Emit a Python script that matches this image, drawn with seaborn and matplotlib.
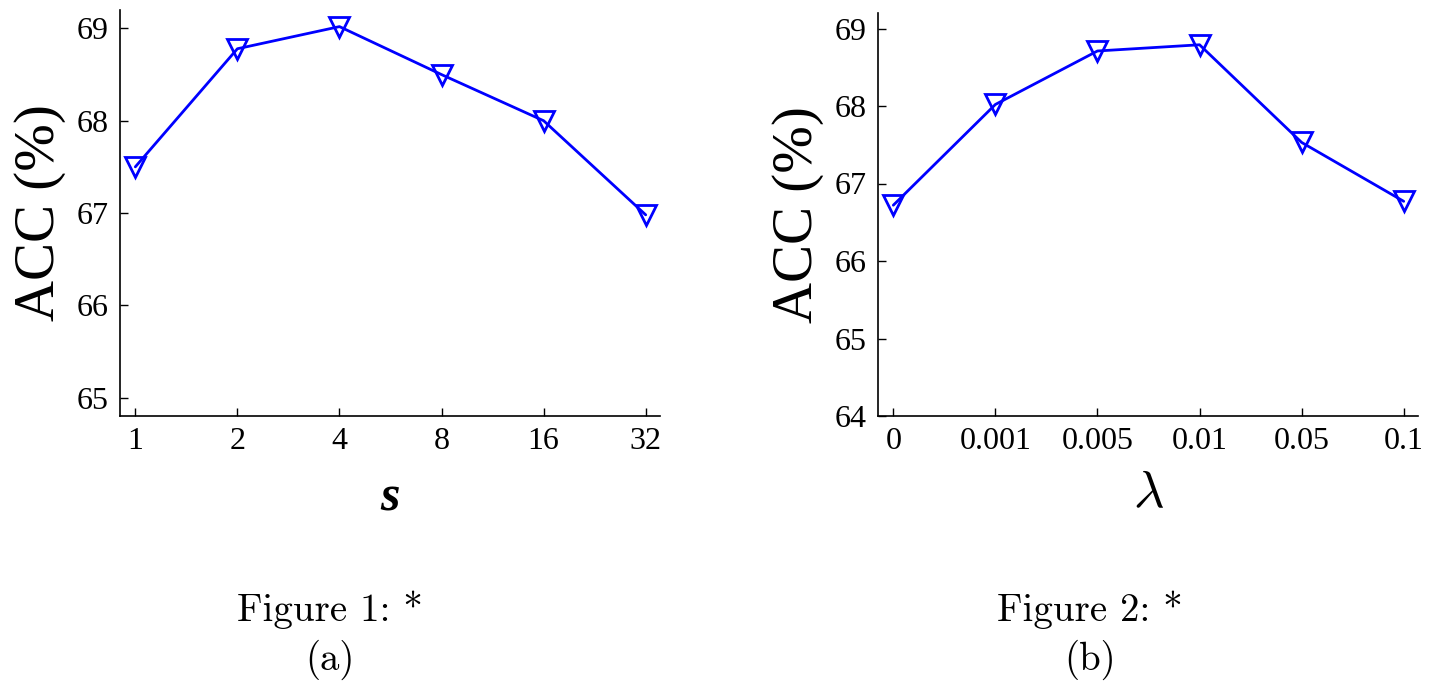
import matplotlib
matplotlib.use("Agg")
import matplotlib.pyplot as plt
import seaborn as sns
import pandas as pd

# dados
s_labels = ["1", "2", "4", "8", "16", "32"]
acc_s = [67.5, 68.78, 69.02, 68.5, 68.0, 66.98]

lambda_labels = ["0", "0.001", "0.005", "0.01", "0.05", "0.1"]
acc_lambda = [66.72, 68.02, 68.71, 68.79, 67.53, 66.77]

sns.set_style("ticks")
plt.rcParams["font.family"] = ["Liberation Serif", "DejaVu Serif"]
plt.rcParams["mathtext.fontset"] = "cm"
plt.rcParams["text.color"] = "black"
plt.rcParams["axes.labelcolor"] = "black"
plt.rcParams["xtick.color"] = "black"
plt.rcParams["ytick.color"] = "black"
plt.rcParams["axes.edgecolor"] = "black"

fig = plt.figure(figsize=(14.33, 6.86), dpi=100)
W, H = 1433, 686
ax1 = fig.add_axes([120 / W, 1 - 416 / H, 540 / W, 406 / H])
ax2 = fig.add_axes([878 / W, 1 - 416 / H, 540 / W, 403 / H])

blue = "#0000ff"


def desenha(ax, labels, valores, ylim, yticks):
    df = pd.DataFrame({"pos": range(len(labels)), "acc": valores})
    sns.lineplot(data=df, x="pos", y="acc", ax=ax, color=blue, linewidth=2.0,
                 marker="v", markersize=14, markerfacecolor="none",
                 markeredgecolor=blue, markeredgewidth=2.0)
    ax.set_xlim(-0.15, len(labels) - 1 + 0.14)
    ax.set_ylim(*ylim)
    ax.set_xticks(range(len(labels)))
    ax.set_xticklabels(labels)
    ax.set_yticks(yticks)
    ax.tick_params(direction="in", length=6, width=1, labelsize=23, pad=8)
    for sp in ["left", "bottom"]:
        ax.spines[sp].set_linewidth(1.2)
    sns.despine(ax=ax)
    ax.set_ylabel("ACC (%)", fontsize=41, labelpad=8)


desenha(ax1, s_labels, acc_s, (64.8, 69.2), [65, 66, 67, 68, 69])
desenha(ax2, lambda_labels, acc_lambda, (64, 69.2), [64, 65, 66, 67, 68, 69])

ax1.set_xlabel("s", fontsize=36, fontstyle="italic", fontweight="bold", labelpad=14)
ax2.set_xlabel("$\\lambda$", fontsize=38, labelpad=10)

# legendas das figuras
cap = dict(ha="center", va="center", fontsize=28, family="cmr10")
fig.text(330 / W, 1 - 610 / H, "Figure 1: *", **cap)
fig.text(330 / W, 1 - 660 / H, "(a)", **cap)
fig.text(1090 / W, 1 - 610 / H, "Figure 2: *", **cap)
fig.text(1090 / W, 1 - 660 / H, "(b)", **cap)

fig.savefig("out.png", dpi=100)
